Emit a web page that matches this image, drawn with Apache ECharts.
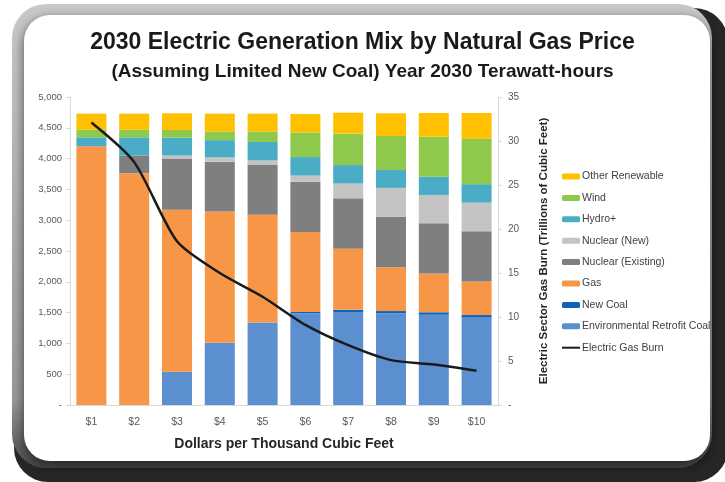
<!DOCTYPE html>
<html>
<head>
<meta charset="utf-8">
<script src="https://cdn.jsdelivr.net/npm/echarts@6/dist/echarts.min.js"></script>
<style>
  html, body { margin: 0; padding: 0; background: #fff; }
  #main { width: 725px; height: 482px; }
</style>
</head>
<body>
<div id="main"></div>
<script>
// values (TWh, gas burn in Tcf)
var prices = ['$1', '$2', '$3', '$4', '$5', '$6', '$7', '$8', '$9', '$10'];
var retrofitCoal = [0, 0, 540, 1010, 1340, 1490, 1510, 1490, 1465, 1420];
var newCoal = [0, 0, 0, 0, 0, 20, 35, 35, 40, 40];
var gas = [4200, 3760, 2630, 2130, 1750, 1300, 990, 710, 630, 545];
var nuclearExisting = [0, 290, 830, 810, 815, 815, 820, 820, 815, 815];
var nuclearNew = [0, 0, 50, 70, 65, 100, 240, 470, 460, 465];
var hydro = [145, 295, 290, 280, 300, 300, 300, 290, 295, 300];
var wind = [125, 125, 125, 140, 170, 400, 510, 550, 650, 735];
var otherRenewable = [260, 260, 270, 290, 290, 300, 340, 370, 385, 420];
var gasBurn = [32.1, 27.6, 18.6, 15.0, 12.3, 9.1, 6.8, 5.1, 4.6, 3.9];

var chartDom = document.getElementById('main');
var myChart = echarts.init(chartDom, null, { renderer: 'canvas' });

var font = '"Liberation Sans", Arial, sans-serif';
var tickColor = '#595959';

function barSeries(name, data, color) {
  return {
    name: name,
    type: 'bar',
    stack: 'mix',
    barWidth: 30,
    yAxisIndex: 0,
    itemStyle: { color: color },
    data: data
  };
}

var option = {
  animation: false,
  graphic: [
    // frame: dark shade bottom/right, light grey top/left, white panel
    {
      type: 'rect', z: -10,
      shape: { x: 14, y: 8, width: 714, height: 474, r: 34 },
      style: { fill: '#262626' }
    },
    {
      type: 'rect', z: -9,
      shape: { x: 12, y: 4, width: 700, height: 464, r: 34 },
      style: {
        fill: new echarts.graphic.LinearGradient(0, 0, 0, 1, [
          { offset: 0, color: '#c9c9c9' },
          { offset: 0.85, color: '#9a9a9a' },
          { offset: 1, color: '#4a4a4a' }
        ])
      }
    },
    {
      type: 'rect', z: -8,
      shape: { x: 24, y: 15, width: 686, height: 446, r: 26 },
      style: {
        fill: '#ffffff',
        shadowBlur: 12,
        shadowColor: 'rgba(0,0,0,0.6)',
        shadowOffsetY: 4
      }
    }
  ],
  title: [
    {
      text: '2030 Electric Generation Mix by Natural Gas Price',
      left: 'center',
      top: 26,
      textStyle: { fontFamily: font, fontSize: 23, fontWeight: 'bold', color: '#1a1a1a' }
    },
    {
      text: '(Assuming Limited New Coal) Year 2030 Terawatt-hours',
      left: 'center',
      top: 57,
      textStyle: { fontFamily: font, fontSize: 19, fontWeight: 'bold', color: '#1a1a1a' }
    }
  ],
  legend: {
    orient: 'vertical',
    left: 557,
    top: 166,
    itemWidth: 18,
    itemHeight: 6,
    itemGap: 10.4,
    textStyle: { fontFamily: font, fontSize: 10.5, color: '#404040', padding: [0, 0, 0, -3] },
    data: [
      'Other Renewable', 'Wind', 'Hydro+', 'Nuclear (New)', 'Nuclear (Existing)',
      'Gas', 'New Coal', 'Environmental Retrofit Coal',
      { name: 'Electric Gas Burn', icon: 'path://M0,0 H18 V2 H0 Z' }
    ]
  },
  grid: { left: 70, right: 227, top: 97, bottom: 77 },
  xAxis: {
    type: 'category',
    data: prices,
    name: 'Dollars per Thousand Cubic Feet',
    nameLocation: 'middle',
    nameGap: 32,
    nameTextStyle: { fontFamily: font, fontSize: 14, fontWeight: 'bold', color: '#262626' },
    axisLine: { lineStyle: { color: '#d9d9d9' } },
    axisTick: { lineStyle: { color: '#d9d9d9' }, length: 4 },
    axisLabel: { fontFamily: font, fontSize: 10.5, color: tickColor, margin: 12 }
  },
  yAxis: [
    {
      type: 'value',
      min: 0,
      max: 5000,
      interval: 500,
      splitLine: { show: false },
      axisLine: { show: true, lineStyle: { color: '#d9d9d9' } },
      axisTick: { show: true, length: 4, lineStyle: { color: '#d9d9d9' } },
      axisLabel: {
        fontFamily: font, fontSize: 9.5, color: tickColor, margin: 8,
        formatter: function (v) { return v === 0 ? '-' : v.toLocaleString('en-US'); }
      }
    },
    {
      type: 'value',
      min: 0,
      max: 35,
      interval: 5,
      position: 'right',
      name: 'Electric Sector Gas Burn (Trillions of Cubic Feet)',
      nameLocation: 'middle',
      nameRotate: 90,
      nameGap: 40,
      nameTextStyle: { fontFamily: font, fontSize: 11.5, fontWeight: 'bold', color: '#262626' },
      splitLine: { show: false },
      axisLine: { show: true, lineStyle: { color: '#d9d9d9' } },
      axisTick: { show: true, length: 4, lineStyle: { color: '#d9d9d9' } },
      axisLabel: {
        fontFamily: font, fontSize: 10, color: tickColor, margin: 10,
        formatter: function (v) { return v === 0 ? '-' : v; }
      }
    }
  ],
  series: [
    barSeries('Environmental Retrofit Coal', retrofitCoal, '#5b8fd0'),
    barSeries('New Coal', newCoal, '#0e64b8'),
    barSeries('Gas', gas, '#f79646'),
    barSeries('Nuclear (Existing)', nuclearExisting, '#7f7f7f'),
    barSeries('Nuclear (New)', nuclearNew, '#c4c4c4'),
    barSeries('Hydro+', hydro, '#4bacc6'),
    barSeries('Wind', wind, '#8fc94c'),
    barSeries('Other Renewable', otherRenewable, '#ffc000'),
    {
      name: 'Electric Gas Burn',
      type: 'line',
      yAxisIndex: 1,
      smooth: 0.25,
      symbol: 'none',
      lineStyle: { color: '#1a1a1a', width: 2.5 },
      itemStyle: { color: '#1a1a1a' },
      z: 5,
      data: gasBurn
    }
  ]
};

myChart.setOption(option);
</script>
</body>
</html>
